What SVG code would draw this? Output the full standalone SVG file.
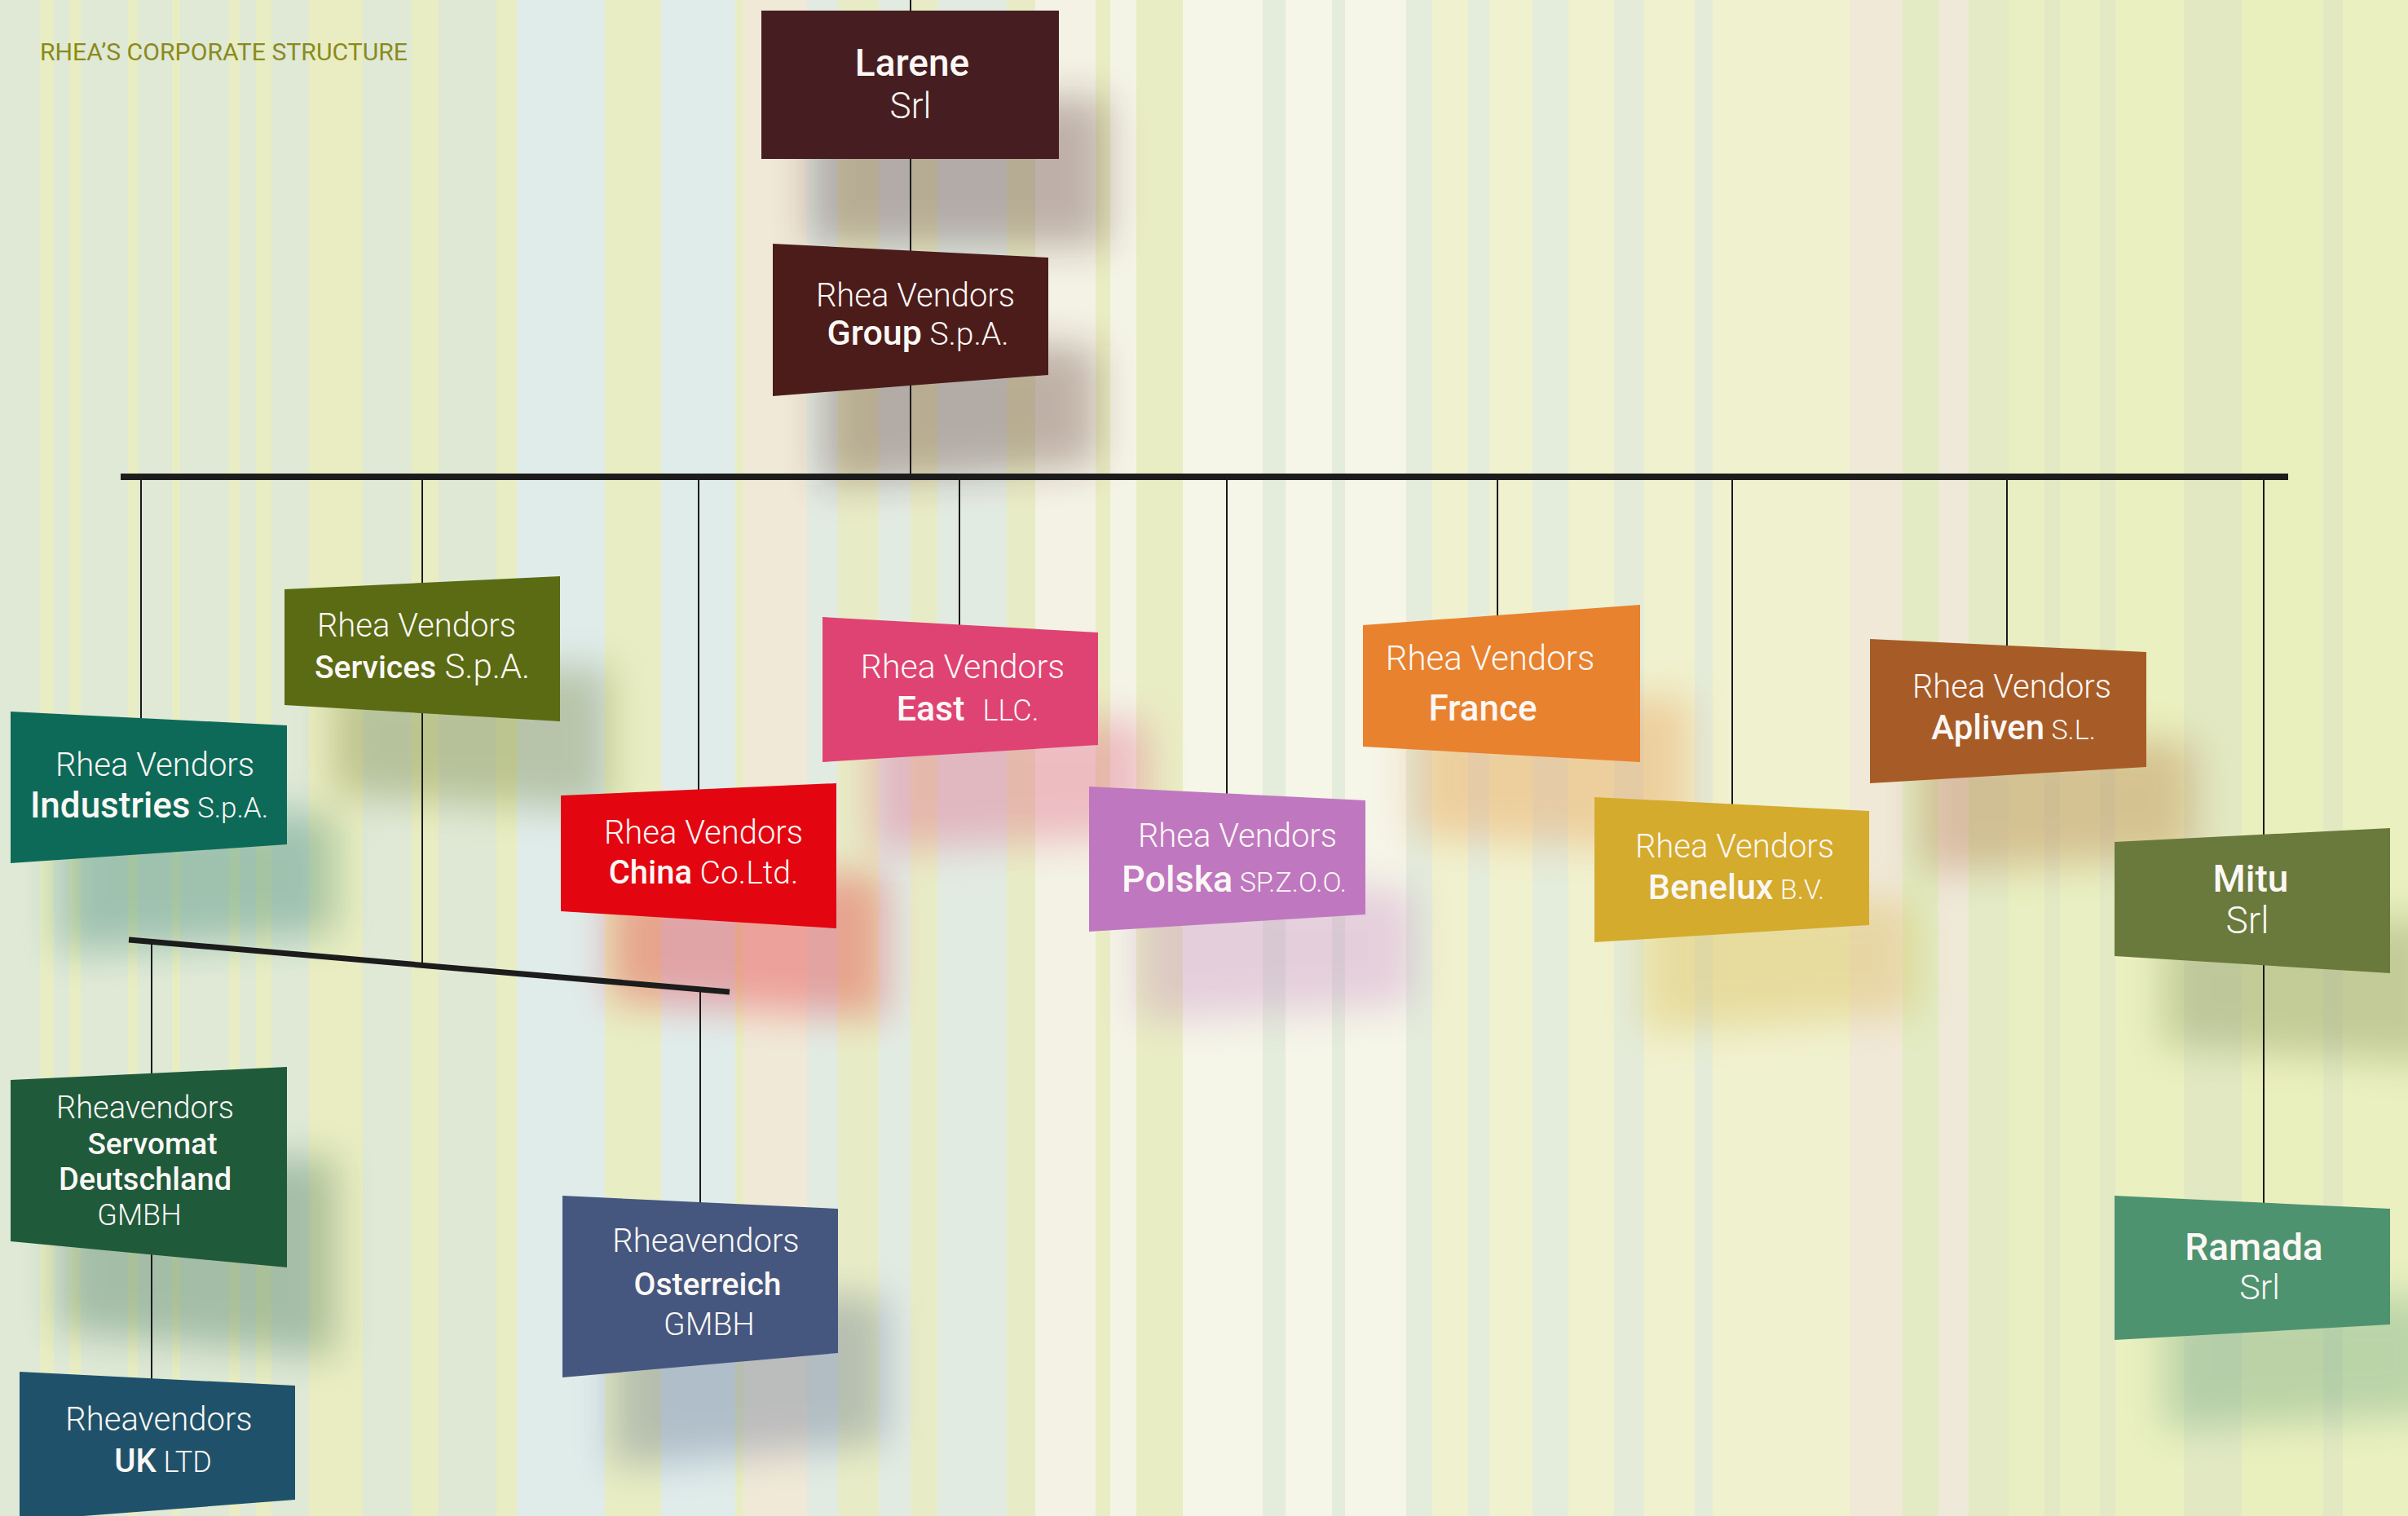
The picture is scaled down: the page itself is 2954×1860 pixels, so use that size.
<svg xmlns="http://www.w3.org/2000/svg" width="2954" height="1860" viewBox="0 0 2954 1860">
<style>
.t{font-family:Roboto,"Liberation Sans",sans-serif;fill:#fbf7f5;text-anchor:middle}
.l{font-weight:300}
.b{font-weight:500}
.thin{stroke:#1b1b1b;stroke-width:2;fill:none}
.bar{stroke:#1c1c1c;fill:none;stroke-linecap:butt}
</style>
<defs>
<filter id="sh" x="-50%" y="-50%" width="200%" height="200%"><feGaussianBlur stdDeviation="24"/></filter>
<filter id="shl" x="-10%" y="-200%" width="120%" height="500%"><feGaussianBlur stdDeviation="10"/></filter>
</defs>
<g id="background">
<rect x="0" y="0" width="2954" height="1860" fill="#e9edc6"/>
<rect x="0" y="0" width="49" height="1860" fill="#dfe9d6"/>
<rect x="49" y="0" width="17" height="1860" fill="#e9edc3"/>
<rect x="66" y="0" width="19" height="1860" fill="#dfe9d6"/>
<rect x="85" y="0" width="14" height="1860" fill="#e9edc3"/>
<rect x="99" y="0" width="58" height="1860" fill="#dfe9d6"/>
<rect x="157" y="0" width="12" height="1860" fill="#e9edc3"/>
<rect x="169" y="0" width="42" height="1860" fill="#dfe9d6"/>
<rect x="211" y="0" width="10" height="1860" fill="#e9edc3"/>
<rect x="221" y="0" width="60" height="1860" fill="#dfe9d6"/>
<rect x="281" y="0" width="13" height="1860" fill="#e9edc3"/>
<rect x="294" y="0" width="20" height="1860" fill="#dfe9d6"/>
<rect x="314" y="0" width="19" height="1860" fill="#e9edc3"/>
<rect x="333" y="0" width="46" height="1860" fill="#dfe9d6"/>
<rect x="379" y="0" width="66" height="1860" fill="#eaedc2"/>
<rect x="445" y="0" width="60" height="1860" fill="#dfe9d6"/>
<rect x="505" y="0" width="33" height="1860" fill="#e9edc3"/>
<rect x="538" y="0" width="71" height="1860" fill="#dfe8d4"/>
<rect x="609" y="0" width="25" height="1860" fill="#e9edc3"/>
<rect x="634" y="0" width="108" height="1860" fill="#e0ecea"/>
<rect x="742" y="0" width="69" height="1860" fill="#e8edc4"/>
<rect x="811" y="0" width="91" height="1860" fill="#e0ecea"/>
<rect x="902" y="0" width="10" height="1860" fill="#e9edc3"/>
<rect x="912" y="0" width="78" height="1860" fill="#f0e9d8"/>
<rect x="990" y="0" width="38" height="1860" fill="#e2ebe2"/>
<rect x="1028" y="0" width="50" height="1860" fill="#e8ecc6"/>
<rect x="1078" y="0" width="39" height="1860" fill="#e2ebe2"/>
<rect x="1117" y="0" width="33" height="1860" fill="#e8ecc6"/>
<rect x="1150" y="0" width="85" height="1860" fill="#e2ebe2"/>
<rect x="1235" y="0" width="35" height="1860" fill="#e8ecc6"/>
<rect x="1270" y="0" width="74" height="1860" fill="#f3f2e4"/>
<rect x="1344" y="0" width="18" height="1860" fill="#e9edc3"/>
<rect x="1362" y="0" width="32" height="1860" fill="#f4f4e6"/>
<rect x="1394" y="0" width="57" height="1860" fill="#e9edc4"/>
<rect x="1451" y="0" width="98" height="1860" fill="#f5f5e8"/>
<rect x="1549" y="0" width="28" height="1860" fill="#e4ecdb"/>
<rect x="1577" y="0" width="57" height="1860" fill="#f5f5e8"/>
<rect x="1634" y="0" width="16" height="1860" fill="#e4ecdb"/>
<rect x="1650" y="0" width="75" height="1860" fill="#f5f5e8"/>
<rect x="1725" y="0" width="32" height="1860" fill="#e4ecdb"/>
<rect x="1757" y="0" width="44" height="1860" fill="#f0f1cf"/>
<rect x="1801" y="0" width="26" height="1860" fill="#e4ecdb"/>
<rect x="1827" y="0" width="53" height="1860" fill="#f0f1cf"/>
<rect x="1880" y="0" width="44" height="1860" fill="#e4ecdb"/>
<rect x="1924" y="0" width="56" height="1860" fill="#f0f1cf"/>
<rect x="1980" y="0" width="37" height="1860" fill="#e4ecd9"/>
<rect x="2017" y="0" width="62" height="1860" fill="#f0f1cf"/>
<rect x="2079" y="0" width="22" height="1860" fill="#e4ecd9"/>
<rect x="2101" y="0" width="168" height="1860" fill="#f0f1cf"/>
<rect x="2269" y="0" width="65" height="1860" fill="#f0e9d8"/>
<rect x="2334" y="0" width="44" height="1860" fill="#e2ebc4"/>
<rect x="2378" y="0" width="37" height="1860" fill="#efe9d9"/>
<rect x="2415" y="0" width="49" height="1860" fill="#e3eac5"/>
<rect x="2464" y="0" width="44" height="1860" fill="#e9efc2"/>
<rect x="2508" y="0" width="19" height="1860" fill="#e2e9c4"/>
<rect x="2527" y="0" width="49" height="1860" fill="#e9efc2"/>
<rect x="2576" y="0" width="19" height="1860" fill="#e2e9c4"/>
<rect x="2595" y="0" width="84" height="1860" fill="#eaf0c0"/>
<rect x="2679" y="0" width="71" height="1860" fill="#e2e9c2"/>
<rect x="2750" y="0" width="100" height="1860" fill="#eaefbe"/>
<rect x="2850" y="0" width="24" height="1860" fill="#e2e9c2"/>
<rect x="2874" y="0" width="80" height="1860" fill="#eaf0c0"/>
</g>
<text x="49" y="74" font-family="Roboto,'Liberation Sans',sans-serif" font-size="30" fill="#8b8a1c" textLength="451" lengthAdjust="spacingAndGlyphs">RHEA’S CORPORATE STRUCTURE</text>
<g id="shadows" filter="url(#sh)" opacity="0.3">
<path d="M160 690 H2860" stroke="#555" stroke-width="14" filter="url(#shl)"/>
<rect x="994" y="120" width="365" height="182" fill="#461e21"/>
<polygon points="1008,409 1346,426 1346,570 1008,596" fill="#4b1c1a"/>
<polygon points="73,983 412,1000 412,1146 73,1169" fill="#0e6a58"/>
<polygon points="409,833 747,817 747,995 409,975" fill="#5a6b13"/>
<polygon points="1069,867 1407,886 1407,1024 1069,1045" fill="#df4373"/>
<polygon points="748,1086 1086,1071 1086,1249 748,1228" fill="#e30611"/>
<polygon points="1396,1075 1735,1092 1735,1232 1396,1253" fill="#bf78c0"/>
<polygon points="1732,877 2072,852 2072,1045 1732,1026" fill="#e8822e"/>
<polygon points="2016,1088 2353,1105 2353,1245 2016,1266" fill="#d4ab2d"/>
<polygon points="2354,894 2693,910 2693,1051 2354,1071" fill="#a75c27"/>
<polygon points="2654,1143 2992,1126 2992,1304 2654,1283" fill="#6a7a3c"/>
<polygon points="73,1435 412,1419 412,1665 73,1633" fill="#1f5a3b"/>
<polygon points="750,1577 1088,1593 1088,1770 750,1800" fill="#45577f"/>
<polygon points="2654,1577 2992,1593 2992,1735 2654,1754" fill="#4e936f"/>
</g>
<g id="connectors">
<line class="thin" x1="1117" y1="0" x2="1117" y2="585"/>
<line class="thin" x1="173" y1="585" x2="173" y2="900"/>
<line class="thin" x1="518" y1="585" x2="518" y2="1184"/>
<line class="thin" x1="857" y1="585" x2="857" y2="990"/>
<line class="thin" x1="1177" y1="585" x2="1177" y2="790"/>
<line class="thin" x1="1505" y1="585" x2="1505" y2="1000"/>
<line class="thin" x1="1837" y1="585" x2="1837" y2="790"/>
<line class="thin" x1="2125" y1="585" x2="2125" y2="1010"/>
<line class="thin" x1="2462" y1="585" x2="2462" y2="820"/>
<line class="thin" x1="2777" y1="585" x2="2777" y2="1490"/>
<line class="thin" x1="186" y1="1155" x2="186" y2="1720"/>
<line class="thin" x1="859" y1="1215" x2="859" y2="1500"/>
<line class="bar" x1="148" y1="585" x2="2807" y2="585" stroke-width="8"/>
<line class="bar" x1="158" y1="1153" x2="895" y2="1217" stroke-width="7"/>
</g>
<g id="larene">
<rect x="934" y="13" width="365" height="182" fill="#461e21"/>
<text class="t" x="1119" y="93" font-size="46"><tspan class="b">Larene</tspan></text>
<text class="t l" x="1117" y="145" font-size="44">Srl</text>
</g>
<g id="group">
<polygon points="948,299 1286,316 1286,460 948,486" fill="#4b1c1a"/>
<text class="t l" x="1123" y="376" font-size="40">Rhea Vendors</text>
<text class="t" x="1126" y="423"><tspan class="b" font-size="43">Group</tspan><tspan class="l" font-size="39"> S.p.A.</tspan></text>
</g>
<g id="industries">
<polygon points="13,873 352,890 352,1036 13,1059" fill="#0e6a58"/>
<text class="t l" x="190" y="952" font-size="40">Rhea Vendors</text>
<text class="t" x="183" y="1003"><tspan class="b" font-size="44">Industries</tspan><tspan class="l" font-size="35"> S.p.A.</tspan></text>
</g>
<g id="services">
<polygon points="349,723 687,707 687,885 349,865" fill="#5a6b13"/>
<text class="t l" x="511" y="781" font-size="40">Rhea Vendors</text>
<text class="t" x="518" y="832"><tspan class="b" font-size="39">Services</tspan><tspan class="l" font-size="42"> S.p.A.</tspan></text>
</g>
<g id="east">
<polygon points="1009,757 1347,776 1347,914 1009,935" fill="#df4373"/>
<text class="t l" x="1181" y="832" font-size="41">Rhea Vendors</text>
<text class="t" x="1187" y="884"><tspan class="b" font-size="43">East</tspan><tspan class="l" font-size="36" dx="22">LLC.</tspan></text>
</g>
<g id="china">
<polygon points="688,976 1026,961 1026,1139 688,1118" fill="#e30611"/>
<text class="t l" x="863" y="1035" font-size="40">Rhea Vendors</text>
<text class="t" x="863" y="1084"><tspan class="b" font-size="40">China</tspan><tspan class="l" font-size="39"> Co.Ltd.</tspan></text>
</g>
<g id="polska">
<polygon points="1336,965 1675,982 1675,1122 1336,1143" fill="#bf78c0"/>
<text class="t l" x="1518" y="1039" font-size="40">Rhea Vendors</text>
<text class="t" x="1514" y="1094"><tspan class="b" font-size="45">Polska</tspan><tspan class="l" font-size="34"> SP.Z.O.O.</tspan></text>
</g>
<g id="france">
<polygon points="1672,767 2012,742 2012,935 1672,916" fill="#e8822e"/>
<text class="t l" x="1828" y="822" font-size="42">Rhea Vendors</text>
<text class="t b" x="1819" y="884" font-size="44">France</text>
</g>
<g id="benelux">
<polygon points="1956,978 2293,995 2293,1135 1956,1156" fill="#d4ab2d"/>
<text class="t l" x="2128" y="1052" font-size="40">Rhea Vendors</text>
<text class="t" x="2130" y="1103"><tspan class="b" font-size="43">Benelux</tspan><tspan class="l" font-size="34"> B.V.</tspan></text>
</g>
<g id="apliven">
<polygon points="2294,784 2633,800 2633,941 2294,961" fill="#a75c27"/>
<text class="t l" x="2468" y="856" font-size="40">Rhea Vendors</text>
<text class="t" x="2470" y="907"><tspan class="b" font-size="42">Apliven</tspan><tspan class="l" font-size="34"> S.L.</tspan></text>
</g>
<g id="mitu">
<polygon points="2594,1033 2932,1016 2932,1194 2594,1173" fill="#6a7a3c"/>
<text class="t b" x="2761" y="1094" font-size="46">Mitu</text>
<text class="t l" x="2757" y="1145" font-size="46">Srl</text>
</g>
<g id="servomat">
<polygon points="13,1325 352,1309 352,1555 13,1523" fill="#1f5a3b"/>
<text class="t l" x="178" y="1372" font-size="38">Rheavendors</text>
<text class="t b" x="187" y="1416" font-size="37">Servomat</text>
<text class="t b" x="178" y="1460" font-size="38">Deutschland</text>
<text class="t l" x="171" y="1503" font-size="36">GMBH</text>
</g>
<g id="osterreich">
<polygon points="690,1467 1028,1483 1028,1660 690,1690" fill="#45577f"/>
<text class="t l" x="866" y="1536" font-size="40">Rheavendors</text>
<text class="t b" x="868" y="1589" font-size="39">Osterreich</text>
<text class="t l" x="870" y="1638" font-size="39">GMBH</text>
</g>
<g id="uk">
<polygon points="24,1683 362,1700 362,1840 24,1866" fill="#1f526a"/>
<text class="t l" x="195" y="1755" font-size="40">Rheavendors</text>
<text class="t" x="200" y="1806"><tspan class="b" font-size="40">UK</tspan><tspan class="l" font-size="36"> LTD</tspan></text>
</g>
<g id="ramada">
<polygon points="2594,1467 2932,1483 2932,1625 2594,1644" fill="#4e936f"/>
<text class="t b" x="2765" y="1546" font-size="46">Ramada</text>
<text class="t l" x="2772" y="1594" font-size="43">Srl</text>
</g>
</svg>
